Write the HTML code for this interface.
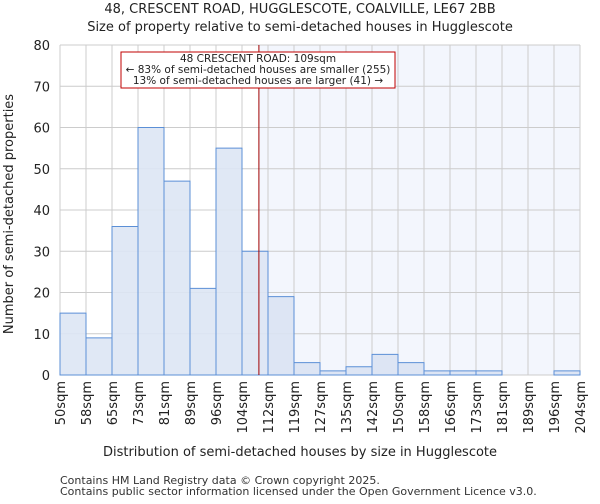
<!DOCTYPE html>
<html><head><meta charset="utf-8"><style>
body{margin:0;background:#fff;font-family:"DejaVu Sans","Liberation Sans",sans-serif}
</style></head><body>
<svg id="chart" width="600" height="500" xmlns="http://www.w3.org/2000/svg" font-family="DejaVu Sans, Liberation Sans, sans-serif">
<text x="300" y="13" text-anchor="middle" font-size="13" fill="#222">48, CRESCENT ROAD, HUGGLESCOTE, COALVILLE, LE67 2BB</text>
<text x="300" y="31" text-anchor="middle" font-size="13" fill="#222">Size of property relative to semi-detached houses in Hugglescote</text>
<g id="plot"></g>
<text x="300" y="456" text-anchor="middle" font-size="13" fill="#222">Distribution of semi-detached houses by size in Hugglescote</text>
<text transform="translate(13,214) rotate(-90)" text-anchor="middle" font-size="13" fill="#222">Number of semi-detached properties</text>
<text x="60" y="484" font-size="11" fill="#333">Contains HM Land Registry data © Crown copyright 2025.</text>
<text x="60" y="495" font-size="11" fill="#333">Contains public sector information licensed under the Open Government Licence v3.0.</text>
</svg>
<script>
const binLabels=["50sqm","58sqm","65sqm","73sqm","81sqm","89sqm","96sqm","104sqm","112sqm","119sqm","127sqm","135sqm","142sqm","150sqm","158sqm","166sqm","173sqm","181sqm","189sqm","196sqm","204sqm"];
const counts=[15,9,36,60,47,21,55,30,19,3,1,2,5,3,1,1,1,0,0,1];
const yTicks=[0,10,20,30,40,50,60,70,80];
const propertyBinPos=[7.65];
const NS="http://www.w3.org/2000/svg";
const L=60,R=580,T=45,B=375,YMAX=80;
const nb=counts.length;
const x=i=>L+(R-L)*i/nb;
const y=v=>B-(B-T)*v/YMAX;
const g=document.getElementById('plot');
function mk(t,a){const e=document.createElementNS(NS,t);for(const k in a)e.setAttribute(k,a[k]);g.appendChild(e);return e;}
const mx=x(propertyBinPos[0]);
let e=mk('rect',{x:mx,y:T,width:R-mx,height:B-T,fill:'#f3f6fd'});


for(let i=0;i<=nb;i++){e=mk('line',{x1:x(i),x2:x(i),y1:T,y2:B,stroke:'#cccccc','stroke-width':1});

}
yTicks.forEach(v=>{e=mk('line',{x1:L,x2:R,y1:y(v),y2:y(v),stroke:'#cccccc','stroke-width':1});


const t=mk('text',{x:L-10,y:y(v)+5,'text-anchor':'end','font-size':13,fill:'#222'});t.textContent=v;

});
counts.forEach((c,i)=>{if(c<=0)return;const r=mk('rect',{x:x(i),y:y(c),width:x(i+1)-x(i),height:B-y(c),fill:x(i)>=mx?'#dae3f3':'#dde6f4',stroke:'#5b8fd6','stroke-width':1,'fill-opacity':0.9});

});
binLabels.forEach((l,i)=>{const t=mk('text',{transform:`translate(${x(i)+5},381) rotate(-90)`,'text-anchor':'end','font-size':13,fill:'#222'});t.textContent=l;

});
e=mk('line',{x1:mx,x2:mx,y1:T,y2:B,stroke:'#a00000','stroke-width':1});


e=mk('rect',{x:121,y:52,width:274,height:36,fill:'#fff',stroke:'#c00000','stroke-width':1});


[["48 CRESCENT ROAD: 109sqm",62],["← 83% of semi-detached houses are smaller (255)",73],["13% of semi-detached houses are larger (41) →",84]].forEach(([s,yy])=>{const t=mk('text',{x:258,y:yy,'text-anchor':'middle','font-size':10.5,fill:'#222'});t.textContent=s;

});
</script>
</body></html>
